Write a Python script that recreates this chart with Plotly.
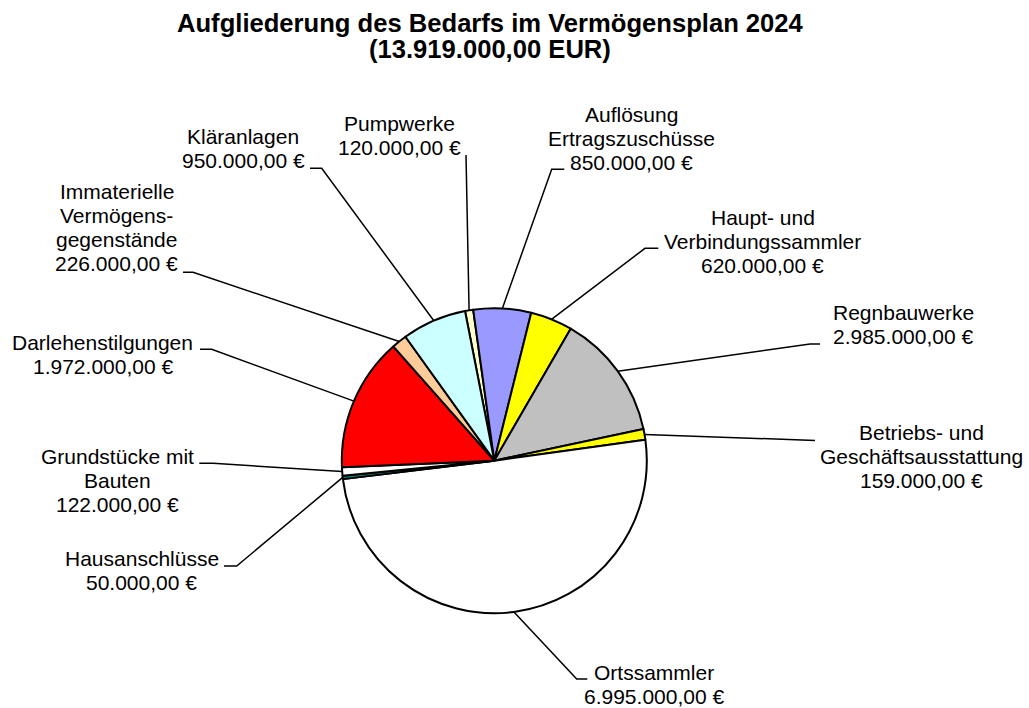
import math
import plotly.graph_objects as go

W, H = 1029, 708

categories = [
    "Pumpwerke",
    "Auflösung<br>Ertragszuschüsse",
    "Haupt- und<br>Verbindungssammler",
    "Regnbauwerke",
    "Betriebs- und<br>Geschäftsausstattung",
    "Ortssammler",
    "Hausanschlüsse",
    "Grundstücke mit<br>Bauten",
    "Darlehenstilgungen",
    "Immaterielle<br>Vermögens-<br>gegenstände",
    "Kläranlagen",
]
# slice sizes as drawn, they add up to the total in the title
slice_values = [120000, 850000, 620000, 1855000, 159000, 6995000,
                50000, 122000, 1972000, 226000, 950000]
# amounts printed in the labels (Regnbauwerke label does not match its slice)
label_amounts = [120000, 850000, 620000, 2985000, 159000, 6995000,
                 50000, 122000, 1972000, 226000, 950000]
colors = ["#FFFFCC", "#9999FF", "#FFFF00", "#C0C0C0", "#FFFF00", "#FFFFFF",
          "#008080", "#FFFFFF", "#FF0000", "#FFCC99", "#CCFFFF"]

# layout in pixels: label centre x, first baseline, elbow and stub end of leader
label_pos = [(399, 131), (631, 121.5), (762.5, 225), (903.3, 320), (921.3, 440),
             (653.5, 679.5), (141.7, 566), (117.5, 463.3), (102.5, 350),
             (116.7, 199), (243.3, 143.3)]
leader_elbow = [(466, 155), (551.7, 169.3), (645, 248.3), (810, 344), (802, 440),
                (576.7, 679), (236.7, 566), (213, 463.3), (211.7, 349.3),
                (193, 272.3), (321.7, 168.3)]
leader_end = [(466, 155), (564.3, 169.3), (658.3, 248.3), (820, 344), (815, 440.5),
              (587.3, 679), (224, 566), (199.3, 463.3), (200, 349.3),
              (183, 272.3), (310, 168.3)]

PIE_CX, PIE_CY, PIE_R = 494.3, 460.7, 152.5
ROTATION = -11.07
FONT = "Liberation Sans, Arial, sans-serif"
LABEL_SIZE = 21
LINE_STEP = 24


def euro(v):
    s = f"{v:,.2f}"
    return s.replace(",", "X").replace(".", ",").replace("X", ".")


def px(x, y):
    return x / W, 1 - y / H


def add_text_lines(fig, lines, cx, baseline, size, step):
    for k, line in enumerate(lines):
        ymid = baseline + k * step - 0.3465 * size
        x, y = px(cx, ymid)
        fig.add_annotation(
            x=x, y=y, xref="paper", yref="paper", text=line, showarrow=False,
            xanchor="center", yanchor="middle",
            font={"family": FONT, "size": size, "color": "black"},
        )


fig = go.Figure()
fig.add_pie(
    labels=[c.replace("<br>", " ") for c in categories],
    values=slice_values,
    sort=False,
    direction="clockwise",
    rotation=ROTATION,
    marker={"colors": colors, "line": {"color": "black", "width": 2}},
    textinfo="none",
    hoverinfo="label+value",
    showlegend=False,
    domain={
        "x": [(PIE_CX - PIE_R) / W, (PIE_CX + PIE_R) / W],
        "y": [1 - (PIE_CY + PIE_R) / H, 1 - (PIE_CY - PIE_R) / H],
    },
)

total = sum(slice_values)
acc = 0
for i, v in enumerate(slice_values):
    # leader starts on the rim at the middle of the slice
    mid = math.radians(ROTATION + 360 * (acc + v / 2) / total)
    acc += v
    sx = PIE_CX + PIE_R * math.sin(mid)
    sy = PIE_CY - PIE_R * math.cos(mid)
    pts = [px(sx, sy), px(*leader_elbow[i]), px(*leader_end[i])]
    path = "M " + " L ".join(f"{a:.5f},{b:.5f}" for a, b in pts)
    fig.add_shape(type="path", path=path, xref="paper", yref="paper",
                  line={"color": "black", "width": 1.5})

    lines = categories[i].split("<br>") + [euro(label_amounts[i]) + " €"]
    add_text_lines(fig, lines, label_pos[i][0], label_pos[i][1], LABEL_SIZE, LINE_STEP)

title_lines = ["<b>Aufgliederung des Bedarfs im Vermögensplan 2024</b>",
               f"<b>({euro(total)} EUR)</b>"]
add_text_lines(fig, title_lines, 490, 31.5, 25.6, 26)

fig.update_layout(
    width=W,
    height=H,
    margin={"l": 0, "r": 0, "t": 0, "b": 0},
    paper_bgcolor="white",
    plot_bgcolor="white",
    font={"family": FONT},
)

fig.write_html("out.html", config={"displayModeBar": False},
               post_script="document.body.style.margin='0';")
